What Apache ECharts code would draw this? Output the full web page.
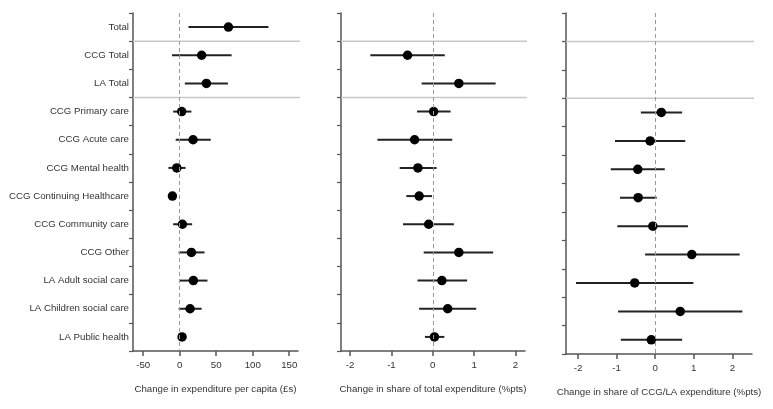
<!DOCTYPE html>
<html>
<head>
<meta charset="utf-8">
<script src="https://cdn.jsdelivr.net/npm/echarts@6/dist/echarts.min.js"></script>
<style>
  html, body { margin: 0; padding: 0; background: #fff; }
  #chart { width: 773px; height: 409px; }
</style>
</head>
<body>
<div id="chart"></div>
<script>
var categories = ['Total', 'CCG Total', 'LA Total', 'CCG Primary care', 'CCG Acute care', 'CCG Mental health',
    'CCG Continuing Healthcare', 'CCG Community care', 'CCG Other', 'LA Adult social care',
    'LA Children social care', 'LA Public health'];

// panel 1: change in expenditure per capita (£s)
var perCapita     = [66.7, 30, 36.5, 2.7, 18.3, -4, -10, 3.7, 16, 18.7, 14.2, 3.2];
var perCapitaLow  = [12, -10.5, 7, -9, -5.5, -15.5, -14, -9, -1.5, 0, -1.5, 1];
var perCapitaHigh = [121.5, 71, 66, 16, 42.5, 8, -6, 17, 34, 38, 30, 6];

// panel 2: change in share of total expenditure (%pts)
var shareTotal     = [null, -0.61, 0.63, 0.02, -0.44, -0.36, -0.33, -0.10, 0.63, 0.22, 0.36, 0.04];
var shareTotalLow  = [null, -1.51, -0.27, -0.38, -1.34, -0.80, -0.64, -0.72, -0.22, -0.37, -0.33, -0.19];
var shareTotalHigh = [null, 0.29, 1.52, 0.43, 0.47, 0.09, -0.02, 0.51, 1.46, 0.83, 1.05, 0.28];

// panel 3: change in share of CCG/LA expenditure (%pts)
var shareSector     = [null, null, null, 0.16, -0.13, -0.45, -0.44, -0.06, 0.95, -0.53, 0.65, -0.10];
var shareSectorLow  = [null, null, null, -0.37, -1.04, -1.15, -0.91, -0.98, -0.26, -2.05, -0.96, -0.89];
var shareSectorHigh = [null, null, null, 0.70, 0.78, 0.25, 0.04, 0.85, 2.19, 0.99, 2.26, 0.70];

var ticks1 = [-50, 0, 50, 100, 150];
var ticks2 = [-2, -1, 0, 1, 2];
var ticks3 = [-2, -1, 0, 1, 2];

var axisNames = ['Change in expenditure per capita (£s)', 'Change in share of total expenditure (%pts)',
    'Change in share of CCG/LA expenditure (%pts)'];
var separatorRows = [1, 3]; // grey rule drawn above these rows

var FONT = '"Liberation Sans", Arial, sans-serif';
var chart = echarts.init(document.getElementById('chart'));

function points(vals) {
    var out = [];
    for (var i = 0; i < vals.length; i++) {
        if (vals[i] !== null) out.push([vals[i], i]);
    }
    return out;
}

function bars(lo, hi) {
    var out = [];
    for (var i = 0; i < lo.length; i++) {
        if (lo[i] !== null) out.push([lo[i], hi[i], i]);
    }
    return out;
}

function xAxisFor(idx, min, max, ticks) {
    return {
        type: 'value', gridIndex: idx, min: min, max: max,
        name: axisNames[idx], nameLocation: 'middle', nameGap: 33,
        nameTextStyle: { color: '#333', fontSize: 9.7, fontFamily: FONT },
        splitLine: { show: false },
        axisLine: { show: true, onZero: false, lineStyle: { color: '#555', width: 1.5 } },
        axisTick: { show: true, length: 5, customValues: ticks, lineStyle: { color: '#555', width: 1.5 } },
        axisLabel: { customValues: ticks, color: '#333', fontSize: 9.7, fontFamily: FONT, margin: 9 }
    };
}

function yAxisFor(idx, showLabels) {
    return {
        type: 'category', gridIndex: idx, data: categories, inverse: true,
        axisLine: { show: true, onZero: false, lineStyle: { color: '#555', width: 1.5 } },
        axisTick: { show: true, length: 4, lineStyle: { color: '#555', width: 1.2 } },
        axisLabel: { show: showLabels, color: '#333', fontSize: 9.7, fontFamily: FONT, margin: 4 },
        splitLine: { show: false }
    };
}

function panelSeries(idx, vals, lo, hi) {
    return [{
        type: 'custom', xAxisIndex: idx, yAxisIndex: idx, silent: true, z: 1,
        data: separatorRows.map(function(r) { return [0, r]; }),
        encode: { x: 0, y: 1 },
        renderItem: function(params, api) {
            var c = api.coord([0, api.value(1)]);
            var band = api.size([0, 1])[1];
            var y = c[1] - band / 2;
            var cs = params.coordSys;
            return {
                type: 'line',
                shape: { x1: cs.x, y1: y, x2: cs.x + cs.width + 2, y2: y },
                style: { stroke: '#c8c8c8', lineWidth: 1.5 }
            };
        }
    }, {
        type: 'custom', xAxisIndex: idx, yAxisIndex: idx, silent: true, z: 3,
        data: bars(lo, hi),
        encode: { x: [0, 1], y: 2 },
        renderItem: function(params, api) {
            var a = api.coord([api.value(0), api.value(2)]);
            var b = api.coord([api.value(1), api.value(2)]);
            return {
                type: 'line',
                shape: { x1: a[0], y1: a[1], x2: b[0], y2: b[1] },
                style: { stroke: '#222', lineWidth: 2 }
            };
        }
    }, {
        type: 'scatter', xAxisIndex: idx, yAxisIndex: idx, z: 4,
        data: points(vals), symbol: 'circle', symbolSize: 9.5,
        itemStyle: { color: '#000', opacity: 1 },
        markLine: {
            silent: true, symbol: 'none', label: { show: false },
            lineStyle: { color: '#999', type: [4, 3], width: 1 },
            data: [{ xAxis: 0 }]
        }
    }];
}

var option = {
    animation: false,
    backgroundColor: '#fff',
    grid: [
        { left: 133, top: 13, width: 165, height: 338 },
        { left: 341, top: 13, width: 184, height: 338 },
        { left: 566, top: 13, width: 186, height: 341 }
    ],
    xAxis: [
        xAxisFor(0, -64, 162, ticks1),
        xAxisFor(1, -2.22, 2.23, ticks2),
        xAxisFor(2, -2.31, 2.51, ticks3)
    ],
    yAxis: [yAxisFor(0, true), yAxisFor(1, false), yAxisFor(2, false)],
    series: [].concat(
        panelSeries(0, perCapita, perCapitaLow, perCapitaHigh),
        panelSeries(1, shareTotal, shareTotalLow, shareTotalHigh),
        panelSeries(2, shareSector, shareSectorLow, shareSectorHigh)
    )
};

chart.setOption(option);
</script>
</body>
</html>
